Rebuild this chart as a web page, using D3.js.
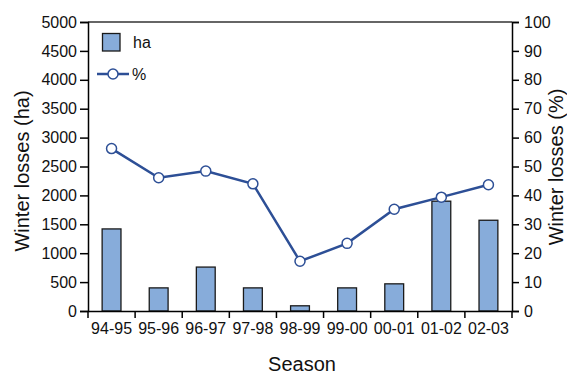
<!DOCTYPE html>
<html>
<head>
<meta charset="utf-8">
<script src="https://cdn.jsdelivr.net/npm/d3@7"></script>
<style>
  body { margin: 0; background: #fff; }
  svg { font-family: "Liberation Sans", Arial, sans-serif; }
</style>
</head>
<body>
<div class="chart"></div>
<script>
const seasons = ["94-95", "95-96", "96-97", "97-98", "98-99", "99-00", "00-01", "01-02", "02-03"];
const lossesHa = [1420, 400, 760, 400, 90, 400, 470, 1900, 1570];
const lossesPct = [56.2, 46.1, 48.4, 44.0, 17.2, 23.4, 35.2, 39.4, 43.7];
const haTicks = [0, 500, 1000, 1500, 2000, 2500, 3000, 3500, 4000, 4500, 5000];
const pctTicks = [0, 10, 20, 30, 40, 50, 60, 70, 80, 90, 100];

const width = 567;
const height = 376;
const plotLeft = 88, plotRight = 512, plotTop = 22, plotBottom = 311;
const barColor = "#87acda";
const lineColor = "#2d4f96";

const svg = d3.select(".chart").append("svg")
  .attr("width", width)
  .attr("height", height);

const x = d3.scaleBand()
  .domain(seasons)
  .range([plotLeft, plotRight])
  .paddingInner(0.6)
  .paddingOuter(0.3);

const yHa = d3.scaleLinear().domain([0, 5000]).range([plotBottom, plotTop]);
const yPct = d3.scaleLinear().domain([0, 100]).range([plotBottom, plotTop]);

// bars
svg.selectAll(".bar")
  .data(lossesHa)
  .enter()
  .append("rect")
  .attr("class", "bar")
  .attr("x", (d, i) => x(seasons[i]))
  .attr("y", d => yHa(d))
  .attr("width", x.bandwidth())
  .attr("height", d => yHa(0) - yHa(d))
  .attr("fill", barColor)
  .attr("stroke", "#1a1a1a")
  .attr("stroke-width", 1.3);

// top frame line
svg.append("line")
  .attr("x1", plotLeft).attr("x2", plotRight)
  .attr("y1", plotTop).attr("y2", plotTop)
  .attr("stroke", "#333")
  .attr("stroke-width", 1.5);

// axes
const leftAxis = svg.append("g")
  .attr("transform", "translate(" + plotLeft + ",0)")
  .call(d3.axisLeft(yHa).tickValues(haTicks).tickFormat(d3.format("d")).tickSize(8).tickPadding(3));

const rightAxis = svg.append("g")
  .attr("transform", "translate(" + plotRight + ",0)")
  .call(d3.axisRight(yPct).tickValues(pctTicks).tickFormat(d3.format("d")).tickSize(7).tickPadding(5));

const bottomAxis = svg.append("g")
  .attr("transform", "translate(0," + plotBottom + ")")
  .call(d3.axisBottom(x).tickSize(0).tickPadding(12));

// x ticks at band boundaries
const bounds = seasons.map(s => x(s) - x.step() * x.paddingOuter()).concat([plotRight]);
bottomAxis.selectAll(".bound")
  .data(bounds)
  .enter()
  .append("line")
  .attr("x1", d => d).attr("x2", d => d)
  .attr("y1", 0).attr("y2", 7)
  .attr("stroke", "#000")
  .attr("stroke-width", 1.5);

[leftAxis, rightAxis, bottomAxis].forEach(g => {
  g.select(".domain").attr("stroke", "#000").attr("stroke-width", 1.5);
  g.selectAll(".tick line").attr("stroke", "#000").attr("stroke-width", 1.5);
  g.selectAll("text")
    .style("font-size", "16px")
    .style("font-family", "Liberation Sans, Arial, sans-serif")
    .attr("fill", "#111");
});

// percentage line
const line = d3.line()
  .x((d, i) => x(seasons[i]) + x.bandwidth() / 2)
  .y(d => yPct(d));

svg.append("path")
  .datum(lossesPct)
  .attr("d", line)
  .attr("fill", "none")
  .attr("stroke", lineColor)
  .attr("stroke-width", 2.5);

svg.selectAll(".dot")
  .data(lossesPct)
  .enter()
  .append("circle")
  .attr("class", "dot")
  .attr("cx", (d, i) => x(seasons[i]) + x.bandwidth() / 2)
  .attr("cy", d => yPct(d))
  .attr("r", 5)
  .attr("fill", "#fff")
  .attr("stroke", lineColor)
  .attr("stroke-width", 1.5);

// axis titles
svg.append("text")
  .attr("transform", "translate(29,171) rotate(-90)")
  .style("text-anchor", "middle")
  .style("font-size", "20px")
  .attr("fill", "#111")
  .text("Winter losses (ha)");

svg.append("text")
  .attr("transform", "translate(563,167) rotate(-90)")
  .style("text-anchor", "middle")
  .style("font-size", "20px")
  .attr("fill", "#111")
  .text("Winter losses (%)");

svg.append("text")
  .attr("x", 302)
  .attr("y", 371)
  .style("text-anchor", "middle")
  .style("font-size", "20px")
  .attr("fill", "#111")
  .text("Season");

// Legends
svg.append("rect")
  .attr("x", 102.5).attr("y", 33.5)
  .attr("width", 17.5).attr("height", 17.5)
  .attr("fill", barColor)
  .attr("stroke", "#1a1a1a")
  .attr("stroke-width", 1.3);

svg.append("text")
  .attr("x", 133).attr("y", 48)
  .style("font-size", "16px")
  .attr("fill", "#111")
  .text("ha");

svg.append("line")
  .attr("x1", 97).attr("x2", 129)
  .attr("y1", 74).attr("y2", 74)
  .attr("stroke", lineColor)
  .attr("stroke-width", 2.5);

svg.append("circle")
  .attr("cx", 113).attr("cy", 74)
  .attr("r", 5)
  .attr("fill", "#fff")
  .attr("stroke", lineColor)
  .attr("stroke-width", 1.5);

svg.append("text")
  .attr("x", 132).attr("y", 80)
  .style("font-size", "16px")
  .attr("fill", "#111")
  .text("%");
</script>
</body>
</html>
